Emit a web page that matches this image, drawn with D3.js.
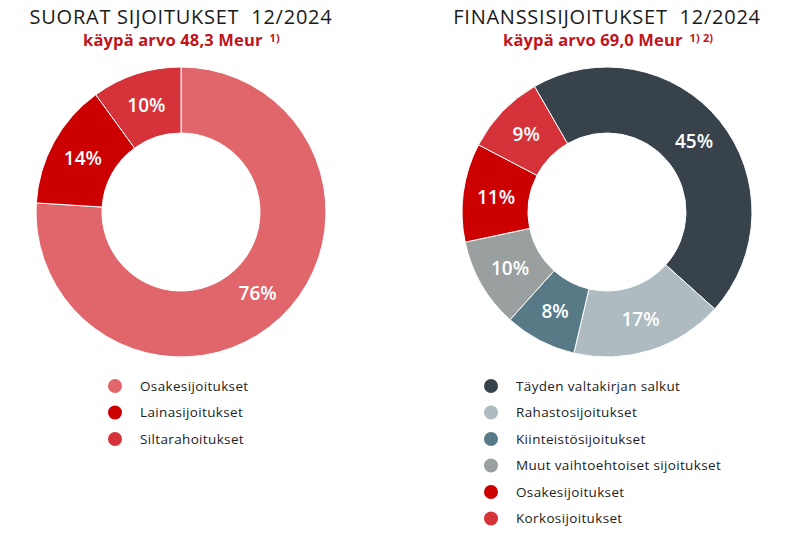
<!DOCTYPE html>
<html><head><meta charset="utf-8">
<script src="https://cdn.jsdelivr.net/npm/d3@7"></script>
<style>body{margin:0;background:#fff}svg{display:block}</style>
</head><body>
<svg id="c" width="792" height="543"></svg>
<script>
// Left chart: Suorat sijoitukset
const leftCategories = ["Osakesijoitukset", "Lainasijoitukset", "Siltarahoitukset"];
const leftValues = [76, 14, 10];
const leftColors = ["#E1666B", "#CC0000", "#D63239"];
const leftTitle = "SUORAT SIJOITUKSET  12/2024";
const leftSub = "käypä arvo 48,3 Meur";
const leftNote = "1)";

// Right chart: Finanssisijoitukset
const rightCategories = ["Täyden valtakirjan salkut", "Rahastosijoitukset", "Kiinteistösijoitukset", "Muut vaihtoehtoiset sijoitukset", "Osakesijoitukset", "Korkosijoitukset"];
const rightValues = [45, 17, 8, 10, 11, 9];
const rightColors = ["#37424A", "#AEBBC0", "#587A86", "#9A9FA0", "#CC0000", "#D63239"];
const rightTitle = "FINANSSISIJOITUKSET  12/2024";
const rightSub = "käypä arvo 69,0 Meur";
const rightNote = "1) 2)";

const svg = d3.select("#c");
const font = "'Open Sans', 'DejaVu Sans', sans-serif";

function donut(cfg) {
  const g = svg.append("g");
  // Titles
  g.append("text").attr("x", cfg.cx).attr("y", 24).attr("text-anchor", "middle")
    .attr("font-family", font).attr("font-size", 20).attr("fill", "#1a1a1a")
    .attr("letter-spacing", 0.75)
    .style("white-space", "pre").text(cfg.title);
  const sub = g.append("text").attr("x", cfg.subX).attr("y", 46).attr("text-anchor", "start")
    .attr("font-family", font).attr("font-weight", 700).attr("font-size", 16.5).attr("fill", "#C0141C")
    .attr("letter-spacing", 0.15);
  sub.append("tspan").text(cfg.sub);
  sub.append("tspan").attr("font-size", 11).attr("dx", 7).attr("dy", -4).text(cfg.note);

  const pie = d3.pie().sort(null).value(d => d)
    .startAngle(cfg.start).endAngle(cfg.start + 2 * Math.PI);
  const arc = d3.arc().innerRadius(79).outerRadius(145);
  const labelArc = d3.arc().innerRadius(112).outerRadius(112);
  const arcs = pie(cfg.values);
  const pg = g.append("g").attr("transform", `translate(${cfg.cx},${cfg.cy})`);
  pg.selectAll("path").data(arcs).join("path")
    .attr("d", arc).attr("fill", (d, i) => cfg.colors[i])
    .attr("stroke", "#fff").attr("stroke-width", 1);
  pg.selectAll("text").data(arcs).join("text")
    .attr("transform", d => `translate(${labelArc.centroid(d)})`)
    .attr("text-anchor", "middle").attr("dy", "0.36em")
    .attr("font-family", font).attr("font-size", 19).attr("font-weight", 600)
    .attr("fill", "#fff").text(d => d.data + "%");

  // Legend
  const y = d3.scalePoint().domain(cfg.categories).range([386, 386 + 26.5 * (cfg.categories.length - 1)]);
  const lg = g.append("g");
  cfg.categories.forEach((c, i) => {
    lg.append("circle").attr("cx", cfg.lx).attr("cy", y(c)).attr("r", 7).attr("fill", cfg.colors[i]);
    lg.append("text").attr("x", cfg.lx + 25).attr("y", y(c)).attr("dy", "0.35em")
      .attr("font-family", font).attr("font-size", 13.5).attr("letter-spacing", 0.35)
      .attr("fill", "#222").text(c);
  });
}

donut({cx: 181, cy: 212, start: 0, values: leftValues, colors: leftColors, categories: leftCategories,
  title: leftTitle, sub: leftSub, note: leftNote, subX: 83, lx: 115});
donut({cx: 607, cy: 212, start: -Math.PI / 6, values: rightValues, colors: rightColors, categories: rightCategories,
  title: rightTitle, sub: rightSub, note: rightNote, subX: 503, lx: 491});
</script>
</body></html>
